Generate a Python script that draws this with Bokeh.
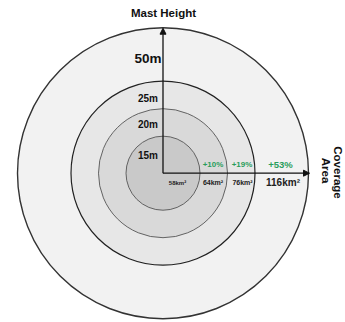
from bokeh.plotting import figure
from bokeh.models import Range1d, Arrow, NormalHead, ColumnDataSource
from bokeh.core.properties import value
from bokeh.embed import file_html
from bokeh.resources import INLINE

# data
mast_heights = ["15m", "20m", "25m", "50m"]
coverage_km2 = [58, 64, 76, 116]
gains = ["+10%", "+19%", "+53%"]

# layout (pixel-based, y measured from top)
W, H = 345, 322
cx, cy = 162.5, 172.7
radii = [37, 64.5, 92, 145.5]
fills = ["#c9c9c9", "#d9d9d9", "#e7e7e7", "#f2f2f2"]
lines = ["#555555", "#555555", "#222222", "#333333"]
lwidths = [0.9, 0.9, 1.2, 1.4]
FONT = value("Liberation Sans")

def Y(y):
    return H - y

p = figure(width=W, height=H, output_backend="svg", toolbar_location=None,
           x_range=Range1d(0, W), y_range=Range1d(0, H), min_border=0)
p.axis.visible = False
p.grid.visible = False
p.outline_line_color = None
p.background_fill_color = "white"

# circles, drawn largest first
for r, fc, lc, lw in reversed(list(zip(radii, fills, lines, lwidths))):
    p.circle(x=[cx], y=[Y(cy)], radius=r, fill_color=fc, line_color=lc, line_width=lw)

# axes arrows
p.add_layout(Arrow(end=NormalHead(size=6, fill_color="#111111", line_color="#111111"),
                   x_start=cx, y_start=Y(cy), x_end=cx, y_end=Y(cy - radii[3] + 0.5),
                   line_color="#111111", line_width=1.3))
p.add_layout(Arrow(end=NormalHead(size=6, fill_color="#111111", line_color="#111111"),
                   x_start=cx, y_start=Y(cy), x_end=cx + radii[3] + 1, y_end=Y(cy),
                   line_color="#111111", line_width=1.3))

# mast height labels
h_y = [155, 123.5, 97.5, 58]
h_sizes = ["10px", "10px", "10px", "13.5px"]
for t, yy, fs in zip(mast_heights, h_y, h_sizes):
    p.text(x=[147.5], y=[Y(yy)], text=[t], text_font=FONT, text_font_style="bold",
           text_font_size=fs, text_align="center", text_baseline="middle", text_color="#111111")

# coverage labels
a_x = [177, 212.5, 242, 282.5]
a_sizes = ["6px", "7px", "7px", "10px"]
for v, xx, fs in zip(coverage_km2, a_x, a_sizes):
    p.text(x=[xx], y=[Y(182)], text=[f"{v}km²"], text_font=FONT, text_font_style="bold",
           text_font_size=fs, text_align="center", text_baseline="middle", text_color="#222222")

# gains
g_x = [212.5, 241.5, 280]
g_sizes = ["8px", "8px", "9.5px"]
for t, xx, fs in zip(gains, g_x, g_sizes):
    p.text(x=[xx], y=[Y(163.5)], text=[t], text_font=FONT, text_font_style="bold",
           text_font_size=fs, text_align="center", text_baseline="middle", text_color="#2a9d5c")

# titles
p.text(x=[163], y=[Y(12.5)], text=["Mast Height"], text_font=FONT, text_font_style="bold",
       text_font_size="11.5px", text_align="center", text_baseline="middle", text_color="#111111")
p.text(x=[337, 325], y=[Y(172), Y(170)], text=["Coverage", "Area"], text_font=FONT,
       text_font_style="bold", text_font_size="11.5px", text_align="center",
       text_baseline="middle", text_color="#111111", angle=-1.5707963)

open("out.html", "w").write(file_html(p, INLINE))
